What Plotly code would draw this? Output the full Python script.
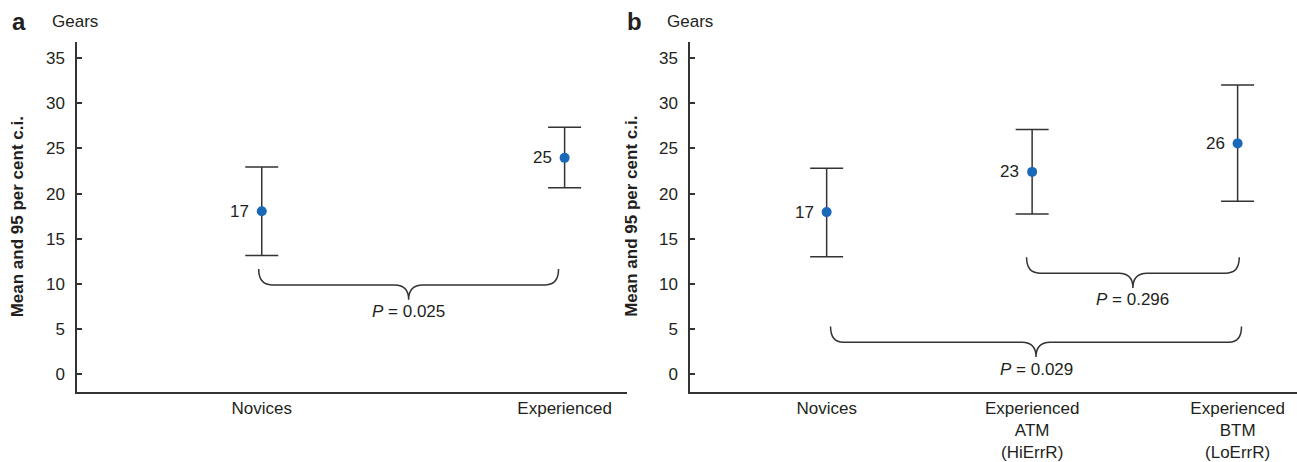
import plotly.graph_objects as go

# ---------------- data ----------------
a_categories = ["Novices", "Experienced"]
a_mean = [18.05, 23.95]
a_upper = [22.95, 27.35]
a_lower = [13.15, 20.65]
a_labels = ["17", "25"]

b_categories = ["Novices", "Experienced<br>ATM<br>(HiErrR)", "Experienced<br>BTM<br>(LoErrR)"]
b_mean = [17.95, 22.4, 25.55]
b_upper = [22.8, 27.1, 32.0]
b_lower = [13.0, 17.75, 19.15]
b_labels = ["17", "23", "26"]

y_ticks = [0, 5, 10, 15, 20, 25, 30, 35]

# comparisons: (start x, end x, bracket level, p text)
a_brace_start = [-0.01]
a_brace_end = [0.98]
a_brace_level = [9.9]
a_p = ["0.025"]

b_brace_start = [0.973, 0.019]
b_brace_end = [2.008, 2.019]
b_brace_level = [11.2, 3.55]
b_p = ["0.296", "0.029"]

# ---------------- layout geometry ----------------
W, H = 1297, 462
y_range = [-1.9, 36.75]
ydom = [(H - 396.7) / H, (H - 42.7) / H]
a_dom = [77 / W, 627 / W]
b_dom = [690 / W, 1.0]
a_xrange = [-0.61, 1.206]
b_xrange = [-0.665, 2.289]

FONT = "Liberation Sans, Arial, Helvetica, sans-serif"
FS = 17
TXT = "#231f20"
LINE = "#333333"
BLUE = "#1a68b8"

py_per_unit = (ydom[1] - ydom[0]) * H / (y_range[1] - y_range[0])


def px_x(dom, rng):
    return (dom[1] - dom[0]) * W / (rng[1] - rng[0])


def paper(X, Y):
    return X / W, 1 - Y / H


fig = go.Figure()


def add_panel(mean, upper, lower, labels, xa, ya):
    xs = list(range(len(mean)))
    fig.add_trace(go.Scatter(
        x=xs, y=mean, mode="markers",
        marker=dict(size=10, color=BLUE),
        error_y=dict(type="data", symmetric=False,
                     array=[u - m for u, m in zip(upper, mean)],
                     arrayminus=[m - l for m, l in zip(mean, lower)],
                     color=LINE, thickness=1.5, width=16.5),
        xaxis=xa, yaxis=ya, showlegend=False, cliponaxis=False,
        hoverinfo="skip",
    ))
    for x, m, t in zip(xs, mean, labels):
        fig.add_annotation(x=x, y=m, xref=xa, yref=ya, text=t,
                           showarrow=False, xanchor="right", yanchor="middle",
                           xshift=-11, font=dict(size=FS, color=TXT, family=FONT))


add_panel(a_mean, a_upper, a_lower, a_labels, "x", "y")
add_panel(b_mean, b_upper, b_lower, b_labels, "x2", "y2")


def add_braces(starts, ends, levels, ps, xref, yref, dom, rng):
    ppx = px_x(dom, rng)
    r = 13 / ppx
    rm = 14 / ppx
    up = 16 / py_per_unit
    dn = 15 / py_per_unit
    for x0, x1, lv, p in zip(starts, ends, levels, ps):
        xc = (x0 + x1) / 2
        yt = lv + up
        yp = lv - dn
        path = (f"M {x0},{yt} Q {x0},{lv} {x0 + r},{lv} "
                f"L {xc - rm},{lv} Q {xc},{lv} {xc},{yp} "
                f"Q {xc},{lv} {xc + rm},{lv} "
                f"L {x1 - r},{lv} Q {x1},{lv} {x1},{yt}")
        fig.add_shape(type="path", path=path, xref=xref, yref=yref,
                      line=dict(color=LINE, width=1.5))
        fig.add_annotation(x=xc, y=yp, xref=xref, yref=yref,
                           text=f"<i>P</i> = {p}", showarrow=False,
                           yanchor="middle", yshift=-12,
                           font=dict(size=FS, color=TXT, family=FONT))


add_braces(a_brace_start, a_brace_end, a_brace_level, a_p, "x", "y", a_dom, a_xrange)
add_braces(b_brace_start, b_brace_end, b_brace_level, b_p, "x2", "y2", b_dom, b_xrange)

yaxis_common = dict(
    range=y_range, domain=ydom, tickvals=y_ticks, ticks="inside", ticklen=5,
    tickwidth=1.5, tickcolor=LINE, showline=True, linewidth=1.5, linecolor=LINE,
    showgrid=False, zeroline=False, ticklabelstandoff=7,
    tickfont=dict(size=FS, color=TXT, family=FONT),
)
xaxis_common = dict(
    showline=True, linewidth=1.5, linecolor=LINE, showgrid=False, zeroline=False,
    ticks="", tickfont=dict(size=FS, color=TXT, family=FONT),
)

fig.update_layout(
    width=W, height=H,
    margin=dict(l=0, r=0, t=0, b=0),
    paper_bgcolor="white", plot_bgcolor="white",
    font=dict(family=FONT, color=TXT, size=FS),
    xaxis=dict(xaxis_common, domain=a_dom, range=a_xrange, anchor="y",
               tickvals=list(range(len(a_categories))), ticktext=a_categories),
    yaxis=dict(yaxis_common, anchor="x"),
    xaxis2=dict(xaxis_common, domain=b_dom, range=b_xrange, anchor="y2",
                tickvals=list(range(len(b_categories))), ticktext=b_categories),
    yaxis2=dict(yaxis_common, anchor="x2"),
)

ymid = (ydom[0] + ydom[1]) / 2
for lbl, lx, gx, tx in [("a", 10, 50, 17.5), ("b", 625, 665, 632)]:
    px_, py_ = paper(lx, 22)
    fig.add_annotation(x=px_, y=py_, xref="paper", yref="paper", text=f"<b>{lbl}</b>",
                       showarrow=False, xanchor="left", yanchor="middle",
                       font=dict(size=24, color=TXT, family=FONT))
    px_, py_ = paper(gx, 22)
    fig.add_annotation(x=px_, y=py_, xref="paper", yref="paper", text="Gears",
                       showarrow=False, xanchor="left", yanchor="middle",
                       font=dict(size=FS, color=TXT, family=FONT))
    px_, _ = paper(tx, 0)
    fig.add_annotation(x=px_, y=ymid, xref="paper", yref="paper",
                       text="<b>Mean and 95 per cent c.i.</b>", textangle=-90,
                       showarrow=False, xanchor="center", yanchor="middle",
                       font=dict(size=17, color=TXT, family=FONT))

fig.write_html(
    "out.html",
    config={"displayModeBar": False},
    post_script="document.body.style.margin='0';document.body.style.overflow='hidden';",
)
